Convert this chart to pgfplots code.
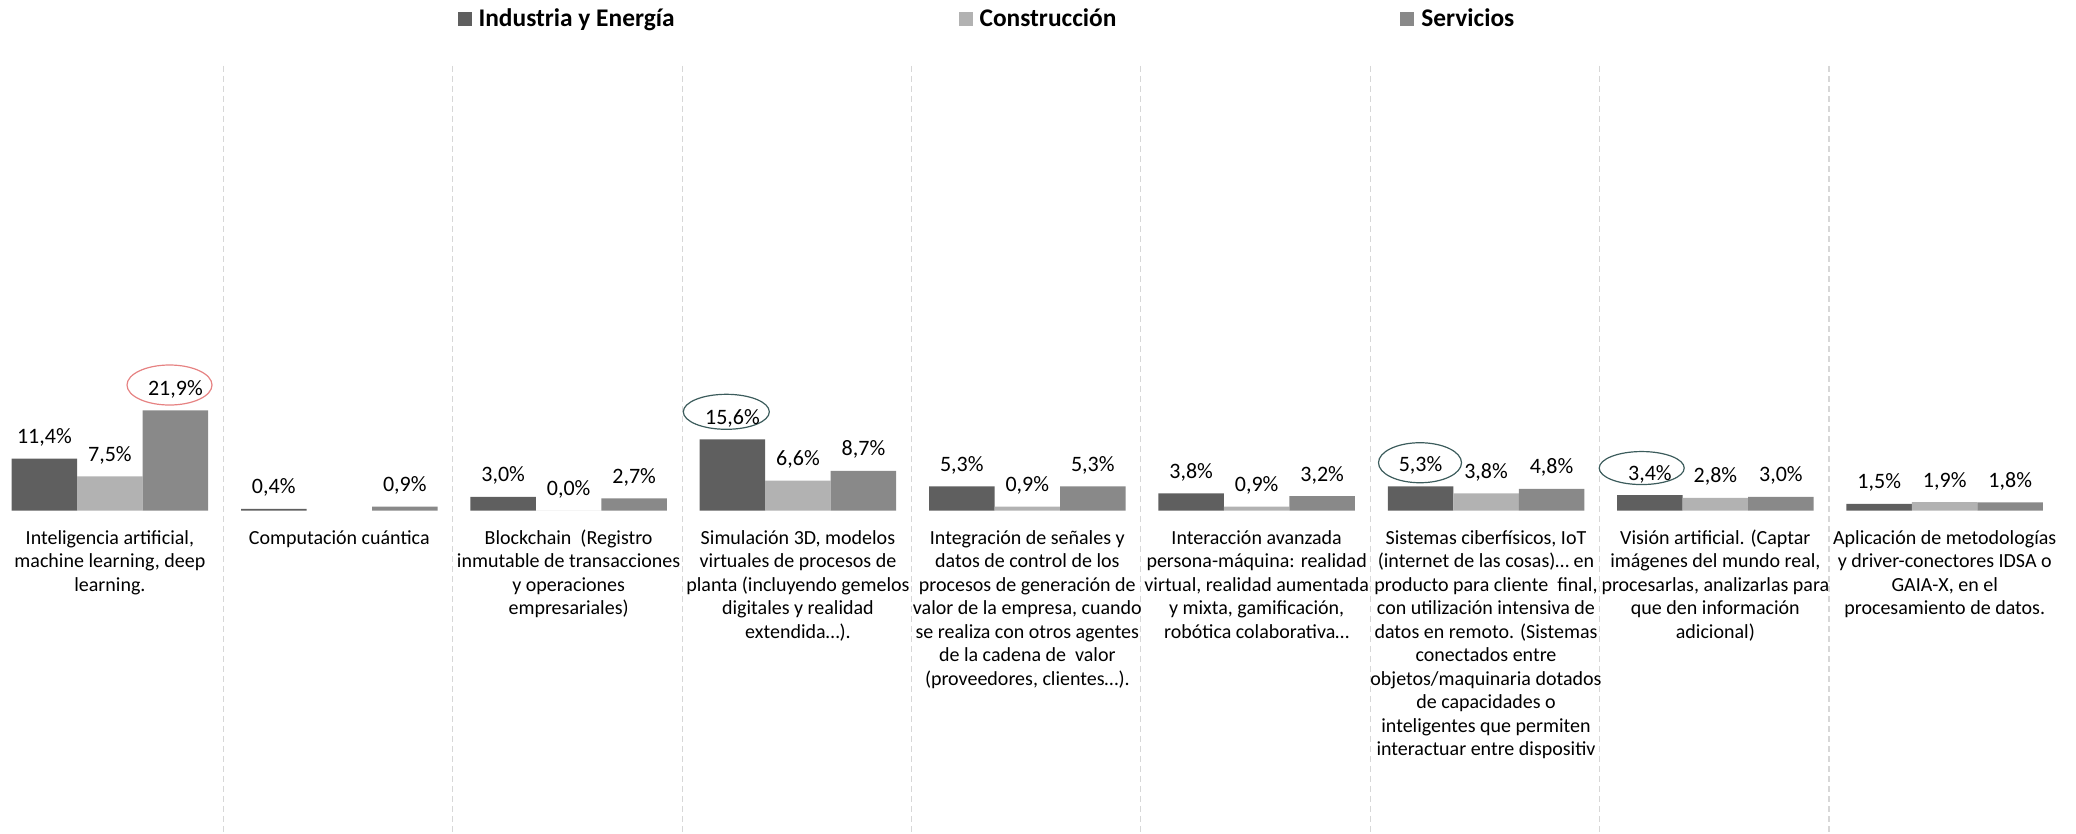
\documentclass[border=0pt]{standalone}
\usepackage{fontspec}
\setmainfont{Carlito}
\usepackage{pgfplots}
\pgfplotsset{compat=1.18}
\definecolor{cI}{RGB}{95,95,95}
\definecolor{cC}{RGB}{178,178,178}
\definecolor{cS}{RGB}{137,137,137}
\definecolor{sepc}{RGB}{215,215,215}
\definecolor{ellred}{RGB}{230,130,130}
\definecolor{ellteal}{RGB}{60,92,92}
\begin{document}
\begin{tikzpicture}
\begin{axis}[
  scale only axis, width=1038bp, height=416.5bp,
  xmin=-0.4792, xmax=8.5725, ymin=-70.37, ymax=111.51,
  hide axis, clip=false,
  ybar=0pt, bar width=32.75bp,
  /pgf/number format/assume math mode=true,
  nodes near coords={\pgfmathprintnumber[fixed,fixed zerofill,precision=1,use comma]{\pgfplotspointmeta}\%},
  every node near coord/.append style={anchor=base, yshift=7.5bp, font=\fontsize{11bp}{13bp}\selectfont, text=black, inner sep=0pt},
  legend style={at={(rel axis cs:0.2204,0.9775)}, anchor=west, draw=none, fill=none,
    inner sep=0pt, outer sep=0pt, font=\bfseries\fontsize{12.7bp}{15bp}\selectfont,
    nodes={inner sep=0pt},
    /tikz/every odd column/.style={column sep=3.5bp},
    /tikz/every even column/.style={column sep=142bp}},
  legend columns=3,
  legend image code/.code={\fill[#1] (0bp,-3.5bp) rectangle (7bp,3.5bp);},
]
\addplot[fill=cI, draw=none] coordinates {(0,11.4) (1,0.4) (2,3.0) (3,15.6) (4,5.3) (5,3.8) (6,5.3) (7,3.4) (8,1.5)};
\addplot[fill=cC, draw=none] coordinates {(0,7.5) (2,0.0) (3,6.6) (4,0.9) (5,0.9) (6,3.8) (7,2.8) (8,1.9)};
\addplot[fill=cS, draw=none] coordinates {(0,21.9) (1,0.9) (2,2.7) (3,8.7) (4,5.3) (5,3.2) (6,4.8) (7,3.0) (8,1.8)};
\legend{Industria y Energía, Construcción, Servicios}

% separators
\draw[sepc, dash pattern=on 3bp off 2bp, line width=0.6bp] (axis cs:0.495,97.1) -- (axis cs:0.495,-70.37);
\draw[sepc, dash pattern=on 3bp off 2bp, line width=0.6bp] (axis cs:1.495,97.1) -- (axis cs:1.495,-70.37);
\draw[sepc, dash pattern=on 3bp off 2bp, line width=0.6bp] (axis cs:2.495,97.1) -- (axis cs:2.495,-70.37);
\draw[sepc, dash pattern=on 3bp off 2bp, line width=0.6bp] (axis cs:3.495,97.1) -- (axis cs:3.495,-70.37);
\draw[sepc, dash pattern=on 3bp off 2bp, line width=0.6bp] (axis cs:4.495,97.1) -- (axis cs:4.495,-70.37);
\draw[sepc, dash pattern=on 3bp off 2bp, line width=0.6bp] (axis cs:5.495,97.1) -- (axis cs:5.495,-70.37);
\draw[sepc, dash pattern=on 3bp off 2bp, line width=0.6bp] (axis cs:6.495,97.1) -- (axis cs:6.495,-70.37);
\draw[sepc, dash pattern=on 3bp off 2bp, line width=0.6bp] (axis cs:7.495,97.1) -- (axis cs:7.495,-70.37);

% highlight ellipses
\draw[ellred, line width=0.6bp] (axis cs:0.2599,27.45) ellipse [x radius=21.25bp, y radius=10bp];
\draw[ellteal, line width=0.6bp] (axis cs:2.6876,21.6) ellipse [x radius=21.5bp, y radius=8.75bp];
\draw[ellteal, line width=0.6bp] (axis cs:5.7122,10.48) ellipse [x radius=20.75bp, y radius=10bp];
\draw[ellteal, line width=0.6bp] (axis cs:6.6789,9.32) ellipse [x radius=21.25bp, y radius=8.25bp];

% category labels
\tikzset{catlab/.style={anchor=north, align=center, inner sep=0pt, font=\fontsize{10bp}{11.75bp}\selectfont}}
\node[catlab] at (axis cs:0,-3.6) {\strut Inteligencia artificial,\\ machine learning, deep\\ learning.};
\node[catlab] at (axis cs:1,-3.6) {\strut Computación cuántica};
\node[catlab] at (axis cs:2,-3.6) {\strut Blockchain\ \ (Registro\\ inmutable de transacciones\\ y operaciones\\ empresariales)};
\node[catlab] at (axis cs:3,-3.6) {\strut Simulación 3D, modelos\\ virtuales de procesos de\\ planta (incluyendo gemelos\\ digitales y realidad\\ extendida…).};
\node[catlab] at (axis cs:4,-3.6) {\strut Integración de señales y\\ datos de control de los\\ procesos de generación de\\ valor de la empresa, cuando\\ se realiza con otros agentes\\ de la cadena de\ \ valor\\ (proveedores, clientes…).};
\node[catlab] at (axis cs:5,-3.6) {\strut Interacción avanzada\\ persona-máquina: realidad\\ virtual, realidad aumentada\\ y mixta, gamificación,\\ robótica colaborativa…};
\node[catlab] at (axis cs:6,-3.6) {\strut Sistemas ciberfísicos, IoT\\ (internet de las cosas)… en\\ producto para cliente\ \ final,\\ con utilización intensiva de\\ datos en remoto. (Sistemas\\ conectados entre\\ objetos/maquinaria dotados\\ de capacidades o\\ inteligentes que permiten\\ interactuar entre dispositiv};
\node[catlab] at (axis cs:7,-3.6) {\strut Visión artificial. (Captar\\ imágenes del mundo real,\\ procesarlas, analizarlas para\\ que den información\\ adicional)};
\node[catlab] at (axis cs:8,-3.6) {\strut Aplicación de metodologías\\ y driver-conectores IDSA o\\ GAIA-X, en el\\ procesamiento de datos.};

\coordinate (bl) at (rel axis cs:0,0);
\coordinate (tr) at (rel axis cs:1,1);
\end{axis}
\pgfresetboundingbox
\path[use as bounding box] (bl) rectangle (tr);
\end{tikzpicture}
\end{document}
